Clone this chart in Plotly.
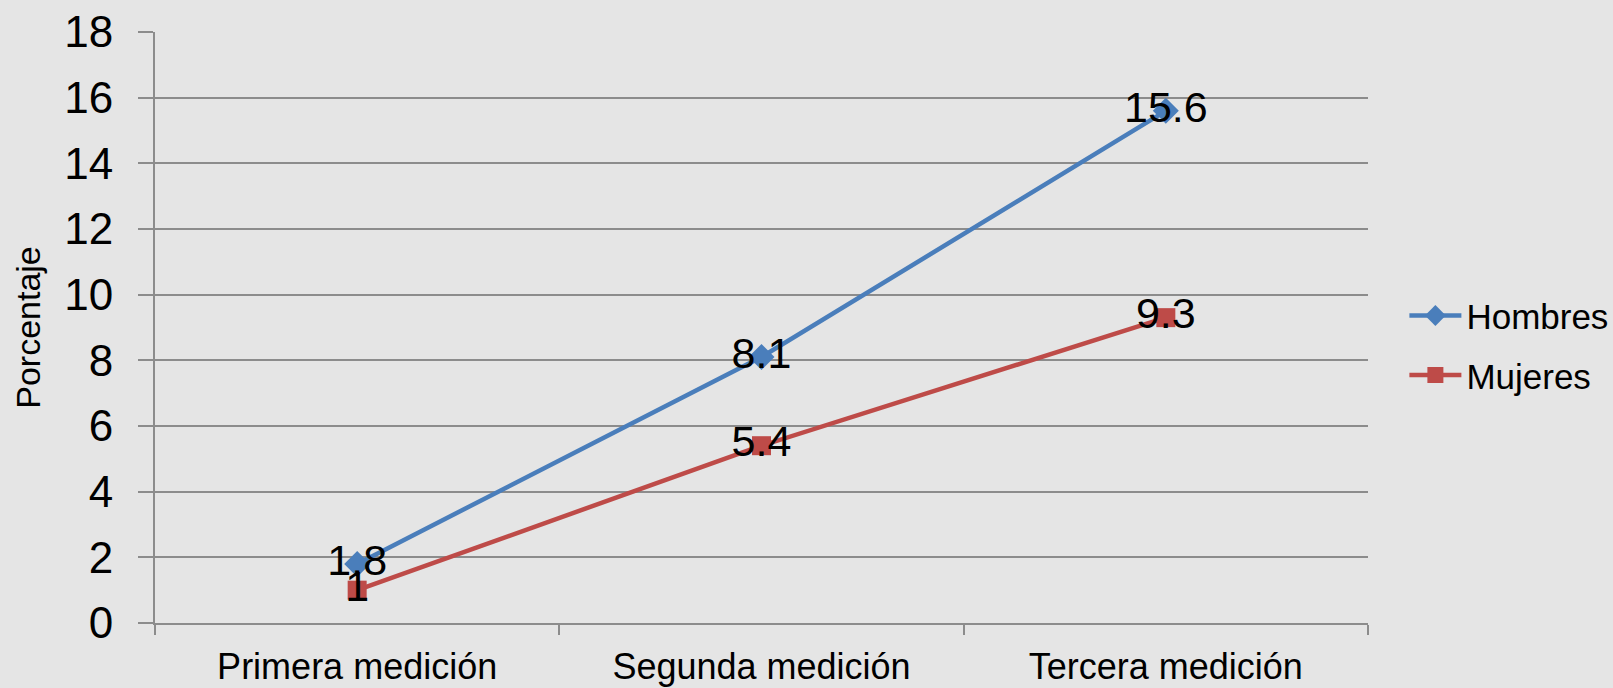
import plotly.graph_objects as go

categories = ["Primera medición", "Segunda medición", "Tercera medición"]
hombres = [1.8, 8.1, 15.6]
mujeres = [1.0, 5.4, 9.3]
y_ticks = [0, 2, 4, 6, 8, 10, 12, 14, 16, 18]

BLUE = "#4a7ebb"
RED = "#be4b48"
GRID = "#8c8c8c"
BG = "#e5e5e5"

fig = go.Figure()
fig.add_trace(go.Scatter(
    x=categories, y=hombres, name="Hombres", mode="lines+markers+text",
    text=[f"{v:g}" for v in hombres], textposition="middle center",
    textfont=dict(size=43, color="black", family="Liberation Sans"),
    line=dict(color=BLUE, width=4.5),
    marker=dict(symbol="diamond", size=20, color=BLUE),
    legendgroup="a", cliponaxis=False,
))
fig.add_trace(go.Scatter(
    x=categories, y=mujeres, name="Mujeres", mode="lines+markers+text",
    text=[f"{v:g}" for v in mujeres], textposition="middle center",
    textfont=dict(size=43, color="black", family="Liberation Sans"),
    line=dict(color=RED, width=4.5),
    marker=dict(symbol="square", size=19, color=RED),
    legendgroup="b", cliponaxis=False,
))

fig.update_layout(
    width=1613, height=688,
    paper_bgcolor=BG, plot_bgcolor=BG,
    margin=dict(l=155, r=245, t=32, b=65, autoexpand=False),
    font=dict(family="Liberation Sans", color="black"),
    showlegend=True,
    legend=dict(
        x=1.03, xanchor="left", y=0.47, yanchor="middle",
        font=dict(size=35, color="black"),
        bgcolor="rgba(0,0,0,0)", itemwidth=52, tracegroupgap=11,
        traceorder="grouped",
    ),
    xaxis=dict(
        type="category", range=[-0.5, 2.5], automargin=False,
        showgrid=False, showline=True, linecolor=GRID, linewidth=2,
        tickson="boundaries", ticks="outside", ticklen=10, tickcolor=GRID, tickwidth=2,
        tickfont=dict(size=36, color="black"), ticklabelstandoff=11,
        zeroline=False,
    ),
    yaxis=dict(
        range=[0, 18], tickvals=y_ticks, automargin=False,
        showgrid=True, gridcolor=GRID, gridwidth=2,
        showline=True, linecolor=GRID, linewidth=2,
        ticks="outside", ticklen=15, tickcolor=GRID, tickwidth=2,
        tickfont=dict(size=44, color="black"), ticklabelstandoff=16,
        zeroline=False,
        title=dict(text="Porcentaje", font=dict(size=34, color="black"), standoff=13),
    ),
)

fig.write_html(
    "out.html",
    config={"displayModeBar": False},
    post_script="document.body.style.margin='0';document.body.style.overflow='hidden';document.body.style.background='#e5e5e5';",
)
